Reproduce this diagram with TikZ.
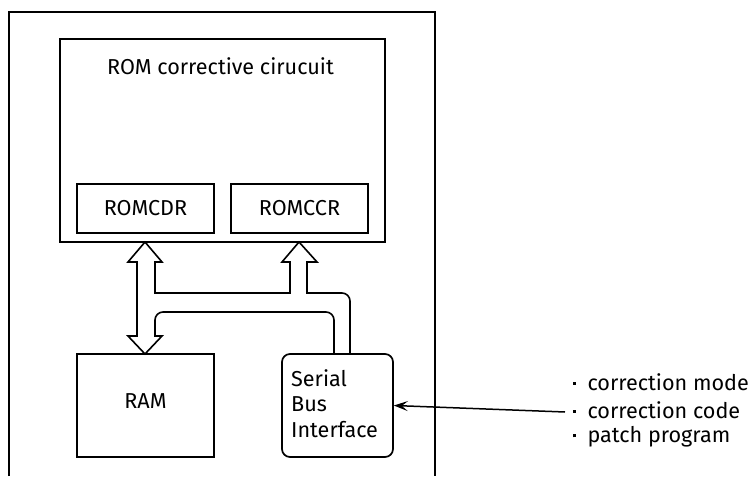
\documentclass[tikz,border=0pt]{standalone}
\usepackage{fontspec}
\setmainfont{Fira Sans}
\usetikzlibrary{arrows.meta}
\begin{document}
\begin{tikzpicture}[x=1pt,y=-1pt,
  box/.style={draw,line width=1.7pt,inner sep=0pt},
  txt/.style={font=\fontsize{21.6}{25}\selectfont,inner sep=0pt},
  bus/.style={draw,line width=1.6pt,line join=miter}]
\useasboundingbox (0,0) rectangle (752,478);
% outer frame (open at bottom)
\draw[line width=1.6pt] (9,476) -- (9,12) -- (435,12) -- (435,476);
% ROM corrective circuit
\node[box,minimum width=325pt,minimum height=203pt] (rom) at (222.5,140.5) {};
\node[txt] (romt) at (220.5,66) {ROM corrective cirucuit};
\node[box,line width=1.4pt,minimum width=137pt,minimum height=49pt] (cdr) at (145.5,208.5) {};
\node[txt] (cdrt) at (cdr) {ROMCDR};
\node[box,line width=1.4pt,minimum width=137pt,minimum height=49pt] (ccr) at (299.5,208.5) {};
\node[txt] (ccrt) at (ccr) {ROMCCR};
% RAM
\node[box,minimum width=137pt,minimum height=103pt] (ram) at (145.5,405.5) {};
\node[txt] (ramt) at (145.5,401) {RAM};
% Serial bus interface
\node[box,rounded corners=8pt,minimum width=111pt,minimum height=103pt] (sbi) at (337.5,405.5) {};
\node[txt,anchor=west] (s1) at (291,378) {Serial};
\node[txt,anchor=west] (s2) at (291,404) {Bus};
\node[txt,anchor=west] (s3) at (291,430) {Interface};
% hollow bus arrows
\draw[bus] (334,354) [rounded corners=8pt] -- (334,312) -- (155,312) [sharp corners] -- (155,336)
  -- (162,336) -- (145,354) -- (128,336) -- (137,336) -- (137,262) -- (128,262)
  -- (145,242) -- (162,262) -- (155,262) -- (155,293) -- (290,293) -- (290,262)
  -- (282,262) -- (299,242) -- (317,262) -- (307,262) -- (307,293)
  [rounded corners=8pt] -- (350,293) -- (350,354);
% input arrow and labels
\coordinate (src) at (565,412);
\draw[line width=1.5pt,-{Stealth[length=14pt,width=10pt,inset=6pt]}] (src) -- (sbi.east);
\newcommand{\bdot}{\raisebox{5.5pt}{\rule{2.8pt}{2.8pt}}\hspace{11.5pt}}
\node[txt,anchor=west] (l1) at (573,382) {\bdot correction mode};
\node[txt,anchor=west] (l2) at (573,410) {\bdot correction code};
\node[txt,anchor=west] (l3) at (573,437) {\bdot patch program};
\end{tikzpicture}
\end{document}
